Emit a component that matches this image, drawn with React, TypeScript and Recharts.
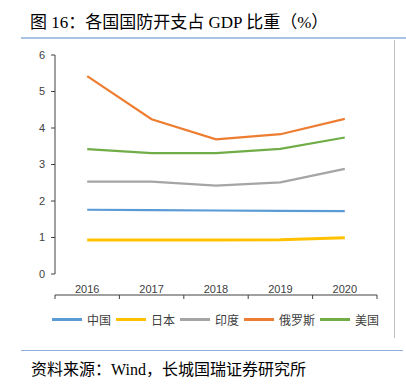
import { LineChart, Line, XAxis, YAxis } from "recharts";

const years = ["2016", "2017", "2018", "2019", "2020"];
const china = [1.76, 1.75, 1.74, 1.73, 1.72];
const japan = [0.93, 0.93, 0.93, 0.94, 0.99];
const india = [2.53, 2.53, 2.42, 2.51, 2.88];
const russia = [5.42, 4.24, 3.69, 3.83, 4.25];
const usa = [3.42, 3.31, 3.31, 3.43, 3.74];
const yTicks = [0, 1, 2, 3, 4, 5, 6];

const series = [
  { key: "china", name: "中国", color: "#5b9bd5", width: 2.2, values: china },
  { key: "japan", name: "日本", color: "#ffc000", width: 3, values: japan },
  { key: "india", name: "印度", color: "#a5a5a5", width: 2.2, values: india },
  { key: "russia", name: "俄罗斯", color: "#ed7d31", width: 2.2, values: russia },
  { key: "usa", name: "美国", color: "#70ad47", width: 2.2, values: usa },
];

const data = years.map((year, i) => {
  const row: any = { year, pos: i + 0.5 };
  series.forEach((s) => (row[s.key] = s.values[i]));
  return row;
});

const serif = "'Liberation Serif', 'Noto Sans CJK SC', serif";
const sans = "'Liberation Sans', 'Noto Sans CJK SC', sans-serif";

export default function App() {
  return (
    <div
      style={{
        position: "fixed",
        left: 0,
        top: 0,
        width: 406,
        height: 386,
        background: "#fff",
        overflow: "hidden",
      }}
    >
      <div
        style={{
          position: "absolute",
          left: 30,
          top: 8,
          fontFamily: serif,
          fontSize: 17,
          color: "#000",
          whiteSpace: "nowrap",
        }}
      >
        图 16：各国国防开支占 GDP 比重（%）
      </div>
      <div style={{ position: "absolute", left: 21, top: 37, width: 385, height: 2, background: "#a9c3e3" }} />
      <div style={{ position: "absolute", left: 394, top: 40, width: 1, height: 298, background: "#bfbfbf" }} />

      <div style={{ position: "absolute", left: 0, top: 0 }}>
        <LineChart
          width={406}
          height={300}
          data={data}
          margin={{ top: 55, right: 29, left: 0, bottom: 0 }}
        >
          <XAxis
            xAxisId="num"
            type="number"
            dataKey="pos"
            domain={[0, 5]}
            ticks={[0, 1, 2, 3, 4, 5]}
            tick={() => <g />}
            tickSize={4}
            height={5}
            stroke="#404040"
          />
          <XAxis
            xAxisId="cat"
            dataKey="year"
            scale="band"
            axisLine={false}
            tickLine={false}
            height={21}
            tick={{ fontSize: 11, fill: "#404040", fontFamily: sans }}
            tickMargin={5}
          />
          <YAxis
            domain={[0, 6]}
            ticks={yTicks}
            width={55}
            tickSize={4}
            stroke="#404040"
            tick={{ fontSize: 11, fill: "#404040", fontFamily: sans }}
            tickMargin={6}
          />
          {series.map((s) => (
            <Line
              key={s.key}
              xAxisId="num"
              type="linear"
              dataKey={s.key}
              name={s.name}
              stroke={s.color}
              strokeWidth={s.width}
              dot={false}
              activeDot={false}
              isAnimationActive={false}
            />
          ))}
        </LineChart>
      </div>

      <div
        style={{
          position: "absolute",
          left: 52,
          top: 311,
          display: "flex",
          alignItems: "center",
          fontFamily: sans,
          fontSize: 12,
          color: "#404040",
          whiteSpace: "nowrap",
        }}
      >
        {series.map((s) => (
          <div key={s.key} style={{ display: "flex", alignItems: "center", marginRight: 5 }}>
            <div style={{ width: 30, height: s.width, background: s.color, marginRight: 5 }} />
            <span>{s.name}</span>
          </div>
        ))}
      </div>

      <div style={{ position: "absolute", left: 21, top: 350, width: 382, height: 1, background: "#8eaee0" }} />
      <div
        style={{
          position: "absolute",
          left: 31,
          top: 356,
          fontFamily: serif,
          fontSize: 16,
          color: "#000",
          whiteSpace: "nowrap",
        }}
      >
        资料来源：Wind，长城国瑞证券研究所
      </div>
    </div>
  );
}
